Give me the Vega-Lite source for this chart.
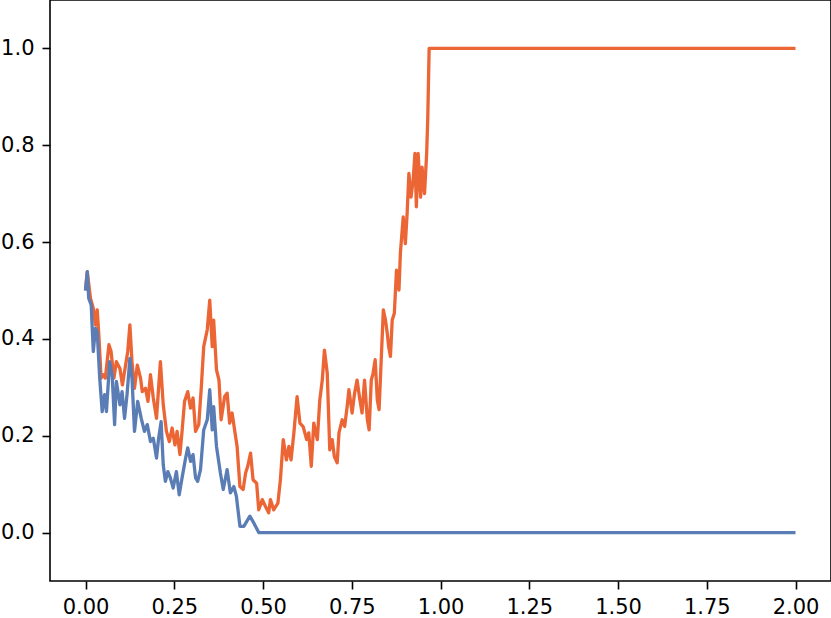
{
  "$schema": "https://vega.github.io/schema/vega-lite/v6.json",
  "width": 781,
  "height": 581,
  "autosize": {"type": "none"},
  "padding": {"left": 50, "top": 0, "right": 0, "bottom": 37},
  "background": "white",
  "config": {
    "view": {"stroke": "black", "strokeWidth": 1.6},
    "axis": {
      "domain": false,
      "grid": false,
      "ticks": true,
      "tickColor": "black",
      "tickWidth": 1.6,
      "tickSize": 8,
      "labelFont": "DejaVu Sans",
      "labelFontSize": 21,
      "labelColor": "black",
      "title": null
    }
  },
  "datasets": {
    "blue": [
      {"x": 0, "y": 0.50}, {"x": 0.005, "y": 0.539}, {"x": 0.009, "y": 0.484}, {"x": 0.016, "y": 0.47},
      {"x": 0.022, "y": 0.374}, {"x": 0.028, "y": 0.422}, {"x": 0.033, "y": 0.415}, {"x": 0.040, "y": 0.319},
      {"x": 0.047, "y": 0.25}, {"x": 0.054, "y": 0.285}, {"x": 0.059, "y": 0.25}, {"x": 0.068, "y": 0.353},
      {"x": 0.075, "y": 0.326}, {"x": 0.082, "y": 0.223}, {"x": 0.087, "y": 0.312}, {"x": 0.097, "y": 0.264},
      {"x": 0.103, "y": 0.291}, {"x": 0.110, "y": 0.236}, {"x": 0.117, "y": 0.285}, {"x": 0.125, "y": 0.36},
      {"x": 0.131, "y": 0.319}, {"x": 0.138, "y": 0.209}, {"x": 0.147, "y": 0.271}, {"x": 0.157, "y": 0.236},
      {"x": 0.166, "y": 0.209}, {"x": 0.174, "y": 0.223}, {"x": 0.183, "y": 0.188}, {"x": 0.191, "y": 0.195},
      {"x": 0.200, "y": 0.154}, {"x": 0.206, "y": 0.195}, {"x": 0.213, "y": 0.229}, {"x": 0.219, "y": 0.14},
      {"x": 0.225, "y": 0.106}, {"x": 0.232, "y": 0.126}, {"x": 0.239, "y": 0.113}, {"x": 0.247, "y": 0.092},
      {"x": 0.256, "y": 0.126}, {"x": 0.264, "y": 0.078}, {"x": 0.272, "y": 0.113}, {"x": 0.282, "y": 0.154},
      {"x": 0.288, "y": 0.175}, {"x": 0.296, "y": 0.147}, {"x": 0.303, "y": 0.161}, {"x": 0.310, "y": 0.113},
      {"x": 0.316, "y": 0.106}, {"x": 0.324, "y": 0.13}, {"x": 0.333, "y": 0.212}, {"x": 0.343, "y": 0.233},
      {"x": 0.350, "y": 0.295}, {"x": 0.357, "y": 0.212}, {"x": 0.361, "y": 0.26}, {"x": 0.369, "y": 0.178},
      {"x": 0.380, "y": 0.123}, {"x": 0.388, "y": 0.089}, {"x": 0.399, "y": 0.13}, {"x": 0.408, "y": 0.082},
      {"x": 0.418, "y": 0.095}, {"x": 0.425, "y": 0.075}, {"x": 0.435, "y": 0.013}, {"x": 0.446, "y": 0.013},
      {"x": 0.463, "y": 0.034}, {"x": 0.474, "y": 0.02}, {"x": 0.488, "y": 0.0}, {"x": 2.0, "y": 0.0}
    ],
    "orange": [
      {"x": 0, "y": 0.50}, {"x": 0.005, "y": 0.539}, {"x": 0.014, "y": 0.484}, {"x": 0.022, "y": 0.463},
      {"x": 0.028, "y": 0.429}, {"x": 0.033, "y": 0.46}, {"x": 0.037, "y": 0.415}, {"x": 0.044, "y": 0.319},
      {"x": 0.050, "y": 0.326}, {"x": 0.056, "y": 0.319}, {"x": 0.066, "y": 0.388}, {"x": 0.072, "y": 0.374},
      {"x": 0.080, "y": 0.319}, {"x": 0.087, "y": 0.353}, {"x": 0.097, "y": 0.339}, {"x": 0.104, "y": 0.305},
      {"x": 0.113, "y": 0.346}, {"x": 0.119, "y": 0.374}, {"x": 0.125, "y": 0.429}, {"x": 0.131, "y": 0.353},
      {"x": 0.138, "y": 0.298}, {"x": 0.146, "y": 0.346}, {"x": 0.155, "y": 0.319}, {"x": 0.160, "y": 0.291},
      {"x": 0.169, "y": 0.298}, {"x": 0.176, "y": 0.271}, {"x": 0.183, "y": 0.326}, {"x": 0.191, "y": 0.278},
      {"x": 0.200, "y": 0.236}, {"x": 0.211, "y": 0.353}, {"x": 0.219, "y": 0.264}, {"x": 0.228, "y": 0.209},
      {"x": 0.236, "y": 0.188}, {"x": 0.244, "y": 0.216}, {"x": 0.252, "y": 0.181}, {"x": 0.258, "y": 0.209},
      {"x": 0.266, "y": 0.161}, {"x": 0.272, "y": 0.209}, {"x": 0.279, "y": 0.271}, {"x": 0.288, "y": 0.291},
      {"x": 0.296, "y": 0.257}, {"x": 0.303, "y": 0.278}, {"x": 0.310, "y": 0.209}, {"x": 0.319, "y": 0.223},
      {"x": 0.326, "y": 0.298}, {"x": 0.333, "y": 0.384}, {"x": 0.343, "y": 0.419}, {"x": 0.350, "y": 0.48},
      {"x": 0.357, "y": 0.384}, {"x": 0.361, "y": 0.439}, {"x": 0.369, "y": 0.336}, {"x": 0.376, "y": 0.315},
      {"x": 0.382, "y": 0.233}, {"x": 0.392, "y": 0.281}, {"x": 0.399, "y": 0.288}, {"x": 0.406, "y": 0.226},
      {"x": 0.413, "y": 0.247}, {"x": 0.420, "y": 0.212}, {"x": 0.427, "y": 0.178}, {"x": 0.435, "y": 0.095},
      {"x": 0.444, "y": 0.089}, {"x": 0.451, "y": 0.123}, {"x": 0.457, "y": 0.137}, {"x": 0.465, "y": 0.164},
      {"x": 0.472, "y": 0.109}, {"x": 0.482, "y": 0.102}, {"x": 0.488, "y": 0.047}, {"x": 0.498, "y": 0.068},
      {"x": 0.507, "y": 0.054}, {"x": 0.516, "y": 0.041}, {"x": 0.521, "y": 0.068}, {"x": 0.530, "y": 0.047},
      {"x": 0.542, "y": 0.061}, {"x": 0.549, "y": 0.109}, {"x": 0.557, "y": 0.192}, {"x": 0.566, "y": 0.15},
      {"x": 0.573, "y": 0.178}, {"x": 0.579, "y": 0.15}, {"x": 0.587, "y": 0.206}, {"x": 0.596, "y": 0.281},
      {"x": 0.604, "y": 0.226}, {"x": 0.613, "y": 0.219}, {"x": 0.623, "y": 0.192}, {"x": 0.629, "y": 0.206},
      {"x": 0.636, "y": 0.137}, {"x": 0.643, "y": 0.226}, {"x": 0.653, "y": 0.192}, {"x": 0.660, "y": 0.274},
      {"x": 0.667, "y": 0.315}, {"x": 0.673, "y": 0.377}, {"x": 0.681, "y": 0.329}, {"x": 0.688, "y": 0.171},
      {"x": 0.695, "y": 0.192}, {"x": 0.701, "y": 0.157}, {"x": 0.709, "y": 0.144}, {"x": 0.714, "y": 0.206},
      {"x": 0.723, "y": 0.233}, {"x": 0.730, "y": 0.219}, {"x": 0.737, "y": 0.26}, {"x": 0.742, "y": 0.295},
      {"x": 0.751, "y": 0.247}, {"x": 0.758, "y": 0.288}, {"x": 0.765, "y": 0.315}, {"x": 0.773, "y": 0.274},
      {"x": 0.779, "y": 0.247}, {"x": 0.786, "y": 0.315}, {"x": 0.794, "y": 0.233}, {"x": 0.799, "y": 0.212},
      {"x": 0.805, "y": 0.315}, {"x": 0.810, "y": 0.329}, {"x": 0.816, "y": 0.357}, {"x": 0.822, "y": 0.274},
      {"x": 0.827, "y": 0.254}, {"x": 0.833, "y": 0.357}, {"x": 0.839, "y": 0.46}, {"x": 0.845, "y": 0.439},
      {"x": 0.850, "y": 0.412}, {"x": 0.854, "y": 0.384}, {"x": 0.859, "y": 0.364}, {"x": 0.864, "y": 0.439},
      {"x": 0.870, "y": 0.453}, {"x": 0.876, "y": 0.542}, {"x": 0.883, "y": 0.501}, {"x": 0.887, "y": 0.577},
      {"x": 0.895, "y": 0.652}, {"x": 0.901, "y": 0.597}, {"x": 0.906, "y": 0.659}, {"x": 0.911, "y": 0.742},
      {"x": 0.917, "y": 0.693}, {"x": 0.923, "y": 0.728}, {"x": 0.928, "y": 0.783}, {"x": 0.932, "y": 0.673},
      {"x": 0.937, "y": 0.783}, {"x": 0.944, "y": 0.693}, {"x": 0.948, "y": 0.755}, {"x": 0.955, "y": 0.70},
      {"x": 0.961, "y": 0.783}, {"x": 0.964, "y": 0.852}, {"x": 0.968, "y": 1.0}, {"x": 2.0, "y": 1.0}
    ]
  },
  "encoding": {
    "x": {
      "field": "x", "type": "quantitative",
      "scale": {"domain": [-0.1, 2.1], "nice": false, "zero": false},
      "axis": {"values": [0, 0.25, 0.5, 0.75, 1.0, 1.25, 1.5, 1.75, 2.0], "format": ".2f", "labelPadding": 7, "labelFlush": false}
    },
    "y": {
      "field": "y", "type": "quantitative",
      "scale": {"domain": [-0.1, 1.1], "nice": false, "zero": false},
      "axis": {"values": [0, 0.2, 0.4, 0.6, 0.8, 1.0], "format": ".1f", "labelPadding": 8, "labelFlush": false}
    }
  },
  "layer": [
    {
      "data": {"name": "orange"},
      "mark": {"type": "line", "color": "#EC6535", "strokeWidth": 3.3, "strokeJoin": "round", "clip": true}
    },
    {
      "data": {"name": "blue"},
      "mark": {"type": "line", "color": "#5A7DB5", "strokeWidth": 3.3, "strokeJoin": "round", "clip": true}
    }
  ]
}
